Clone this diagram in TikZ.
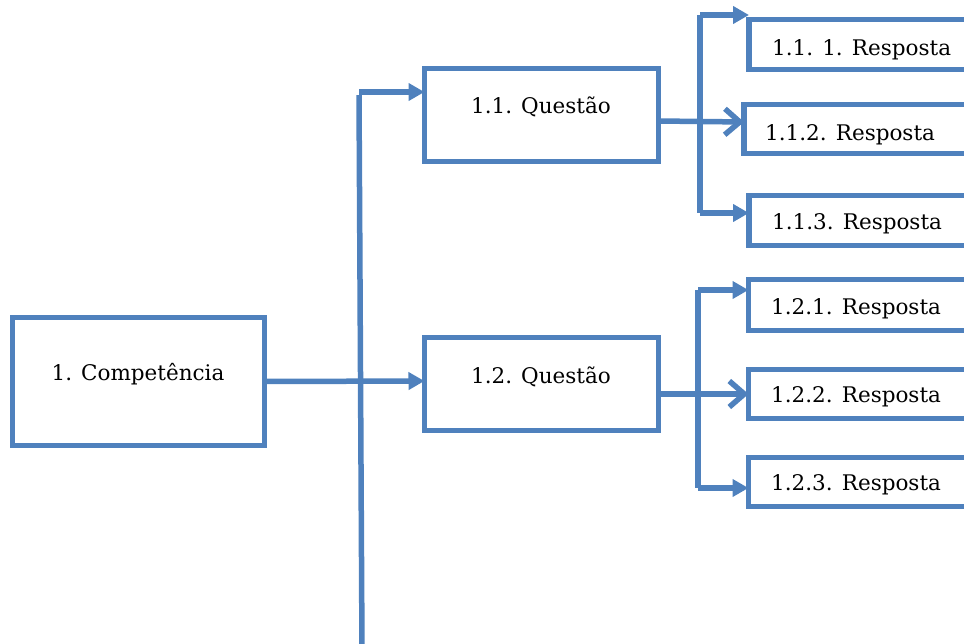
\documentclass[tikz,border=0pt]{standalone}
\usepackage{fontspec}
\setmainfont{DejaVu Serif}
\usetikzlibrary{arrows.meta,calc}
\definecolor{accent}{HTML}{4F81BD}
\begin{document}
\begin{tikzpicture}[x=1pt,y=-1pt,
  box/.style={draw=accent,line width=5.5pt,fill=white,inner sep=0pt,outer sep=0pt,anchor=north west},
  lbl/.style={font=\fontsize{21.5}{26}\selectfont,inner sep=0pt},
  conn/.style={draw=accent,line width=5.5pt},
  tri/.style={conn,-{Triangle[length=16pt,width=17pt]}},
  chev/.style={conn,-{Straight Barb[length=15pt,width=26pt]}}]
\useasboundingbox (0,0) rectangle (964,643);
\clip (0,0) rectangle (964,643);
% boxes
\node[box,minimum width=252pt,minimum height=128pt] (comp) at (12.5,317.5) {};
\node[box,minimum width=234pt,minimum height=93pt] (q1) at (424.5,68.5) {};
\node[box,minimum width=234pt,minimum height=93pt] (q2) at (424.5,337.5) {};
\node[box,minimum width=260pt,minimum height=50pt] (r111) at (749,19.5) {};
\node[box,minimum width=260pt,minimum height=49pt] (r112) at (744,104.5) {};
\node[box,minimum width=260pt,minimum height=50pt] (r113) at (749,195.5) {};
\node[box,minimum width=260pt,minimum height=51pt] (r121) at (748.5,279.5) {};
\node[box,minimum width=260pt,minimum height=49pt] (r122) at (748.5,369.5) {};
\node[box,minimum width=260pt,minimum height=49pt] (r123) at (748.5,457.5) {};
% texts
\node[lbl] (tcomp) at (138,374) {1. Competência};
\node[lbl] (tq1) at (541,107) {1.1. Questão};
\node[lbl] (tq2) at (541,377) {1.2. Questão};
\node[lbl,anchor=west] (t111) at (772,50) {1.1. 1. Resposta};
\node[lbl,anchor=west] (t112) at (765,135) {1.1.2. Resposta};
\node[lbl,anchor=west] (t113) at (772,224) {1.1.3. Resposta};
\node[lbl,anchor=west] (t121) at (771,309) {1.2.1. Resposta};
\node[lbl,anchor=west] (t122) at (771,397) {1.2.2. Resposta};
\node[lbl,anchor=west] (t123) at (771,485) {1.2.3. Resposta};
% main bus
\coordinate (btop) at (359,95);
\coordinate (bbot) at (362,650);
\coordinate (bq1) at (359,92);
\draw[conn] (btop) -- (bbot);
\draw[tri] (bq1) -- (bq1 -| q1.west);
\draw[tri] (comp.east) -- ($(q2.west)+(0,-3)$);
% bus 1
\coordinate (b1t) at (700,15);
\coordinate (b1b) at (700,213);
\draw[conn] (b1t) -- (b1b);
\draw[tri] (b1t) -- (b1t -| r111.west);
\draw[tri] (b1b) -- (b1b -| r113.west);
\draw[chev] ($(q1.east)+(0,6)$) -- ($(r112.west)+(0,-7)$);
% bus 2
\coordinate (b2t) at (698,290);
\coordinate (b2b) at (698,488);
\draw[conn] (b2t) -- (b2b);
\draw[tri] (b2t) -- (b2t -| r121.west);
\draw[tri] (b2b) -- (b2b -| r123.west);
\draw[chev] (q2.east |- r122.west) -- (r122.west);
\end{tikzpicture}
\end{document}
